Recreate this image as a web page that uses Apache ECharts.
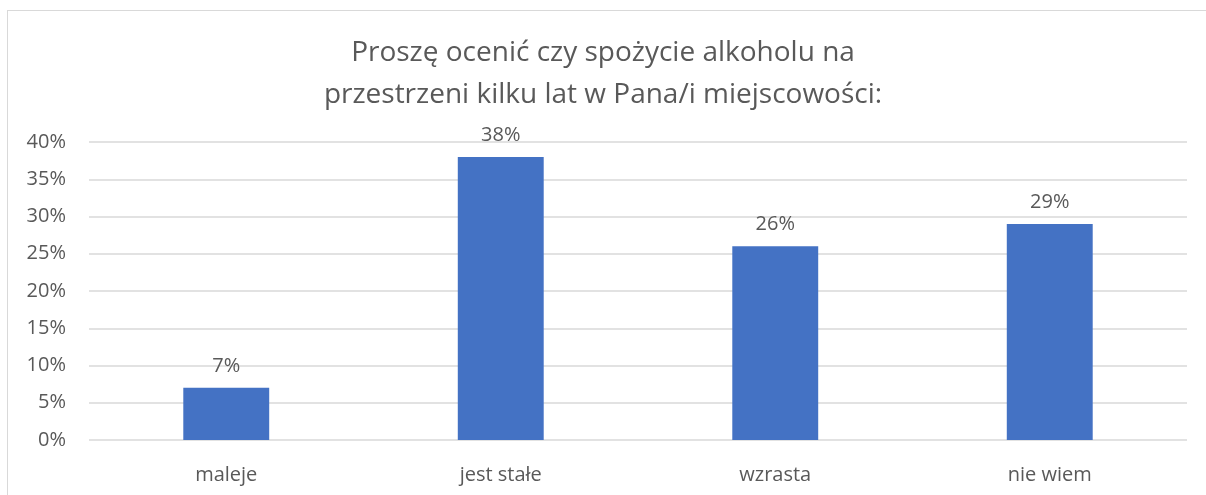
<!DOCTYPE html>
<html>
<head>
<meta charset="utf-8">
<script src="https://cdn.jsdelivr.net/npm/echarts@6.0.0/dist/echarts.min.js"></script>
<style>
html, body { margin: 0; padding: 0; background: #ffffff; }
#ramka {
  position: absolute;
  left: 7px;
  top: 10px;
  width: 1210px;
  height: 500px;
  border: 1px solid #d9d9d9;
  box-sizing: border-box;
}
#wykres { position: absolute; left: 0; top: 0; width: 1206px; height: 495px; }
</style>
</head>
<body>
<div id="ramka"></div>
<div id="wykres"></div>
<script>
// Dane
const kategorie = ['maleje', 'jest stałe', 'wzrasta', 'nie wiem']
const wartosci = [7, 38, 26, 29]
const tytul = 'Proszę ocenić czy spożycie alkoholu na\nprzestrzeni kilku lat w Pana/i miejscowości:'

const kolorSlupka = '#4472c4'
const kolorTekstu = '#595959'
const czcionka = '"Open Sans", "Noto Sans", sans-serif'

const wykres = echarts.init(document.getElementById('wykres'))
wykres.setOption({
  animation: false,
  textStyle: { fontFamily: czcionka, color: kolorTekstu },
  title: {
    text: tytul,
    left: 'center',
    top: 27,
    textStyle: {
      fontFamily: czcionka,
      fontSize: 28,
      fontWeight: 400,
      color: kolorTekstu,
      lineHeight: 42,
    },
  },
  grid: { left: 89, right: 19, top: 142, bottom: 55 },
  xAxis: {
    type: 'category',
    data: kategorie,
    axisLine: { show: false },
    axisTick: { show: false },
    axisLabel: { color: kolorTekstu, fontSize: 20, margin: 25, fontFamily: czcionka },
  },
  yAxis: {
    type: 'value',
    min: 0,
    max: 40,
    interval: 5,
    axisLine: { show: false },
    axisTick: { show: false },
    axisLabel: {
      color: kolorTekstu,
      fontSize: 20,
      margin: 23,
      fontFamily: czcionka,
      formatter: (v) => `${v}%`,
    },
    splitLine: { lineStyle: { color: '#d9d9d9', width: 1.5 } },
  },
  series: [
    {
      type: 'bar',
      data: wartosci,
      barWidth: '31.3%',
      itemStyle: { color: kolorSlupka },
      label: {
        show: true,
        position: 'top',
        distance: 12,
        color: kolorTekstu,
        fontSize: 20,
        fontFamily: czcionka,
        formatter: (p) => `${p.value}%`,
      },
    },
  ],
})
</script>
</body>
</html>
